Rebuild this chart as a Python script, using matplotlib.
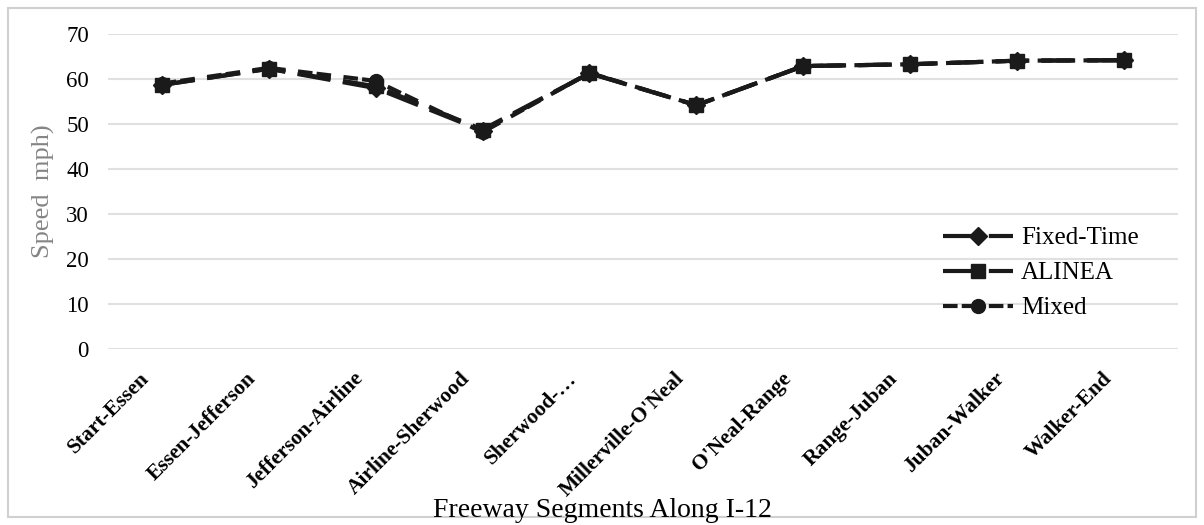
import matplotlib.pyplot as plt
import matplotlib.transforms as mtransforms
from matplotlib.patches import Rectangle

segments = ["Start-Essen", "Essen-Jefferson", "Jefferson-Airline", "Airline-Sherwood",
            "Sherwood-\u2026", "Millerville-O'Neal", "O'Neal-Range", "Range-Juban",
            "Juban-Walker", "Walker-End"]
fixed_time = [58.7, 62.3, 58.0, 48.5, 61.3, 54.2, 62.9, 63.3, 64.1, 64.2]
alinea = [58.7, 62.3, 58.4, 48.8, 61.3, 54.2, 62.9, 63.3, 64.1, 64.2]
mixed = [59.0, 62.5, 59.6, 48.2, 61.4, 54.2, 62.9, 63.3, 64.1, 64.2]
yticks = [0, 10, 20, 30, 40, 50, 60, 70]

plt.rcParams['font.family'] = ['Liberation Serif', 'DejaVu Serif']

fig = plt.figure(figsize=(12.04, 5.25), dpi=100)
ax = fig.add_axes([0.09, 0.335, 0.888, 0.6])

x = list(range(len(segments)))
# long dashes for the two single strategies, split dashes for mixed (gaps line up)
ax.plot(x, fixed_time, color='#1a1a1a', lw=3, ls=(0, (8, 3)), marker='D', ms=9, label='Fixed-Time')
ax.plot(x, alinea, color='#1a1a1a', lw=3, ls=(0, (8, 3)), marker='s', ms=10, label='ALINEA')
ax.plot(x, mixed, color='#1a1a1a', lw=3, ls=(0, (3.5, 1, 3.5, 3)), marker='o', ms=10, label='Mixed')

ax.set_xlim(-0.5, len(segments) - 0.5)
ax.set_ylim(0, 70)
ax.set_yticks(yticks)
ax.set_xticks(x)
ax.tick_params(axis='y', labelsize=16.5, length=0, pad=14)
ax.tick_params(axis='x', length=0, pad=19)
ax.set_xticklabels(segments, rotation=45, ha='right', va='center', rotation_mode='anchor',
                   fontsize=15.5, fontweight='bold')
# nudge labels left so their ends sit just left of the category
shift = mtransforms.ScaledTranslation(-11 / 72, 0, fig.dpi_scale_trans)
for lab in ax.get_xticklabels():
    lab.set_transform(lab.get_transform() + shift)
ax.grid(axis='y', color='#e0e0e0', lw=1.5)
ax.set_axisbelow(True)
for s in ax.spines.values():
    s.set_visible(False)

ax.set_ylabel('Speed  mph)', fontsize=19, color='#858585', labelpad=8)
fig.text(0.5, 0.003, 'Freeway Segments Along I-12', ha='center', va='bottom', fontsize=20)

ax.legend(loc='center left', bbox_to_anchor=(0.767, 0.48), bbox_transform=fig.transFigure,
          frameon=False, fontsize=18, handlelength=2.8, handletextpad=0.3, labelspacing=0.5,
          borderpad=0.3)

fig.patches.append(Rectangle((0.007, 0.015), 0.986, 0.97, transform=fig.transFigure,
                             fill=False, edgecolor='#d0d0d0', lw=1.5))

fig.savefig('out.png', dpi=100)
